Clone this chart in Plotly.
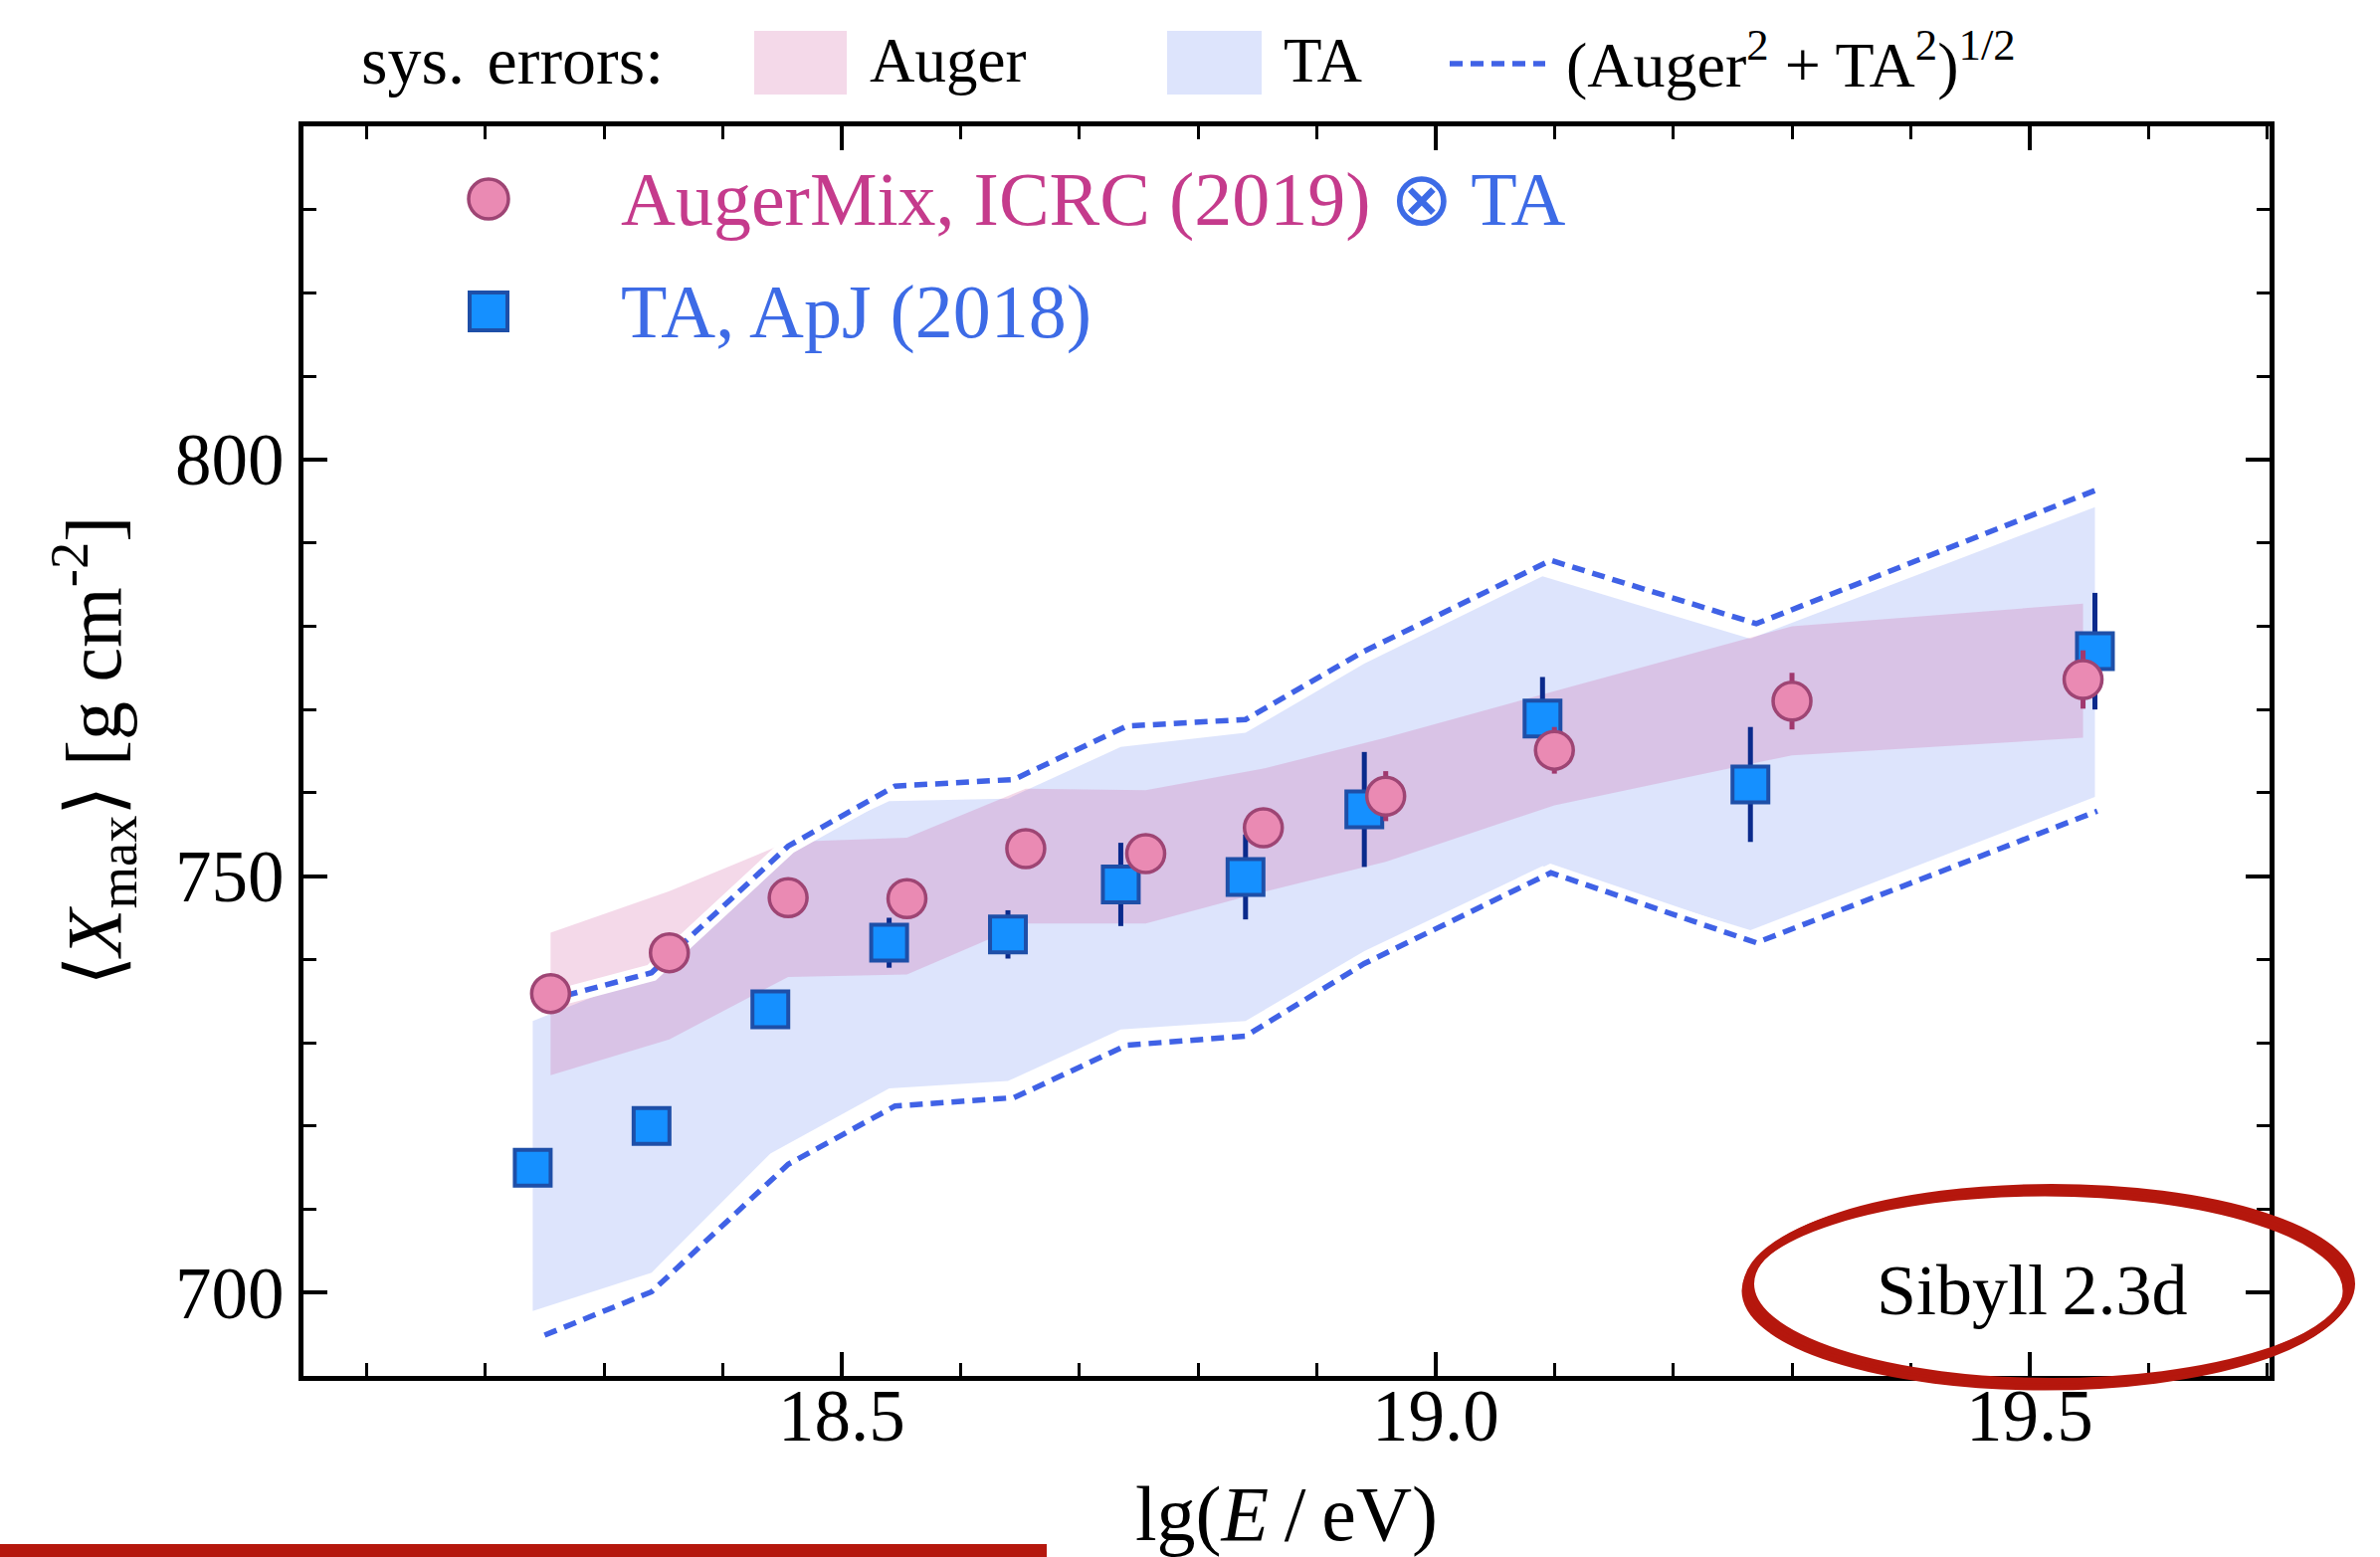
import plotly.graph_objects as go

# ---------------- data ----------------
ta_x = [18.24, 18.34, 18.44, 18.54, 18.64, 18.735, 18.84, 18.94, 19.09, 19.265, 19.555]
ta_y = [715.0, 720.0, 734.0, 742.0, 743.0, 749.0, 749.9, 758.0, 768.9, 761.0, 777.0]
ta_err = [1.5, 1.5, 1.5, 3.0, 2.9, 5.0, 5.1, 6.9, 5.0, 6.9, 7.0]
ta_sys_hi = [732.6, 738.3, 752.4, 759.0, 759.3, 765.5, 767.2, 775.5, 786.0, 778.5, 794.3]
ta_sys_lo = [697.8, 702.4, 716.7, 724.5, 725.4, 731.6, 732.6, 741.0, 751.2, 743.5, 759.5]

auger_x = [18.255, 18.355, 18.455, 18.555, 18.655, 18.756, 18.855, 18.958, 19.1, 19.3, 19.545]
auger_y = [735.9, 740.8, 747.4, 747.3, 753.3, 752.7, 755.8, 759.6, 765.1, 771.0, 773.6]
auger_err = [1.5, 1.5, 1.5, 1.5, 2.2, 1.8, 2.0, 3.0, 2.8, 3.4, 3.5]
auger_sys_hi = [743.2, 748.2, 754.1, 754.6, 760.5, 760.3, 762.9, 766.6, 772.2, 780.0, 782.7]
auger_sys_lo = [726.1, 730.4, 737.9, 738.2, 744.3, 744.3, 748.1, 751.7, 758.5, 764.5, 766.6]

comb_x = [18.25, 18.34, 18.455, 18.545, 18.645, 18.74, 18.84, 18.94, 19.097, 19.27, 19.557]
comb_hi = [735.0, 738.4, 753.6, 760.8, 761.6, 768.0, 768.8, 777.0, 787.9, 780.3, 796.4]
comb_lo = [694.9, 700.1, 715.4, 722.4, 723.4, 729.7, 730.8, 739.5, 750.4, 742.0, 757.8]

x_range = [18.047, 19.702]
y_range = [690, 840]
x_tickvals = [18.5, 19.0, 19.5]
y_tickvals = [700, 750, 800]

# ---------------- styles ----------------
FONT = "Liberation Serif"
PINK_FILL = "#ea8ab3"
PINK_EDGE = "#9e4574"
PINK_ERR = "#a0386e"
BLUE_FILL = "#1590ff"
BLUE_EDGE = "#1e4fa8"
BLUE_ERR = "#0a2a8c"
TA_BAND = "rgba(100,130,240,0.22)"
AUGER_BAND = "rgba(205,75,150,0.21)"
DASH_COL = "#4062e6"
RED = "#b5170d"

W, H = 2392, 1565
L, R, T, B = 305, 2281, 127, 1383


def px2x(p):
    return (p - L) / (R - L)


def px2y(p):
    return (B - p) / (B - T)


fig = go.Figure()

# systematic bands
fig.add_trace(go.Scatter(
    x=ta_x + ta_x[::-1], y=ta_sys_hi + ta_sys_lo[::-1],
    fill="toself", fillcolor=TA_BAND, line=dict(width=0), mode="lines",
    hoverinfo="skip"))
fig.add_trace(go.Scatter(
    x=auger_x + auger_x[::-1], y=auger_sys_hi + auger_sys_lo[::-1],
    fill="toself", fillcolor=AUGER_BAND, line=dict(width=0), mode="lines",
    hoverinfo="skip"))

# combined dashed lines with white halo
for yy in (comb_hi, comb_lo):
    fig.add_trace(go.Scatter(x=comb_x, y=yy, mode="lines",
                             line=dict(color="white", width=17), hoverinfo="skip"))
for yy in (comb_hi, comb_lo):
    fig.add_trace(go.Scatter(x=comb_x, y=yy, mode="lines",
                             line=dict(color=DASH_COL, width=5.5, dash="13px,8px"),
                             hoverinfo="skip"))

# TA data
fig.add_trace(go.Scatter(
    x=ta_x, y=ta_y, mode="markers",
    marker=dict(symbol="square", size=36, color=BLUE_FILL,
                line=dict(color=BLUE_EDGE, width=4)),
    error_y=dict(type="data", array=ta_err, color=BLUE_ERR, thickness=5, width=0)))

# Auger data
fig.add_trace(go.Scatter(
    x=auger_x, y=auger_y, mode="markers",
    marker=dict(symbol="circle", size=38, color=PINK_FILL,
                line=dict(color=PINK_EDGE, width=3.5)),
    error_y=dict(type="data", array=auger_err, color=PINK_ERR, thickness=5, width=0)))

axis_common = dict(
    showline=True, linewidth=5, linecolor="black", mirror="ticks",
    ticks="inside", ticklen=24, tickwidth=3.5, tickcolor="black",
    showgrid=False, zeroline=False,
    tickfont=dict(family=FONT, size=73, color="black"),
)

fig.update_xaxes(
    range=x_range, tickvals=x_tickvals, ticktext=[f"{v:.1f}" for v in x_tickvals],
    minor=dict(dtick=0.1, tick0=18.0, ticks="inside", ticklen=13, tickwidth=3,
               tickcolor="black", showgrid=False),
    ticklabelstandoff=-28,
    title=dict(text="lg(<i>E</i>\u2009/\u2009eV)", font=dict(family=FONT, size=78),
               standoff=46),
    **axis_common)
fig.update_yaxes(
    range=y_range, tickvals=y_tickvals, ticktext=[str(v) for v in y_tickvals],
    minor=dict(dtick=10, tick0=700, ticks="inside", ticklen=13, tickwidth=3,
               tickcolor="black", showgrid=False),
    title=dict(text="\u27e8<i>X</i><sub>max</sub>\u27e9 [g cm<sup>-2</sup>]",
               font=dict(family=FONT, size=78), standoff=30),
    **axis_common)

shapes = []
annotations = []

# top legend: sys. errors
annotations.append(dict(x=px2x(361), y=px2y(61), text="sys. \u200aerrors:",
                        font=dict(size=68, color="black")))
shapes.append(dict(type="rect", xref="paper", yref="paper",
                   x0=px2x(758), x1=px2x(851), y0=px2y(95), y1=px2y(31),
                   fillcolor=AUGER_BAND, line=dict(width=0)))
annotations.append(dict(x=px2x(872), y=px2y(61), text="Auger",
                        font=dict(size=63, color="black")))
shapes.append(dict(type="rect", xref="paper", yref="paper",
                   x0=px2x(1173), x1=px2x(1268), y0=px2y(95), y1=px2y(31),
                   fillcolor=TA_BAND, line=dict(width=0)))
annotations.append(dict(x=px2x(1288), y=px2y(61), text="TA",
                        font=dict(size=63, color="black")))
shapes.append(dict(type="line", xref="paper", yref="paper",
                   x0=px2x(1457), x1=px2x(1553), y0=px2y(64), y1=px2y(64),
                   line=dict(color=DASH_COL, width=5.5, dash="13px,8px")))
annotations.append(dict(x=px2x(1572), y=px2y(61),
                        text="(Auger<sup>2</sup> + TA<sup>2</sup>)<sup>1/2</sup>",
                        font=dict(size=64, color="black")))

# inner legend
shapes.append(dict(type="circle", xref="paper", yref="paper",
                   x0=px2x(471), x1=px2x(511), y0=px2y(220), y1=px2y(180),
                   fillcolor=PINK_FILL, line=dict(color=PINK_EDGE, width=3.5)))
shapes.append(dict(type="rect", xref="paper", yref="paper",
                   x0=px2x(472), x1=px2x(510), y0=px2y(332), y1=px2y(294),
                   fillcolor=BLUE_FILL, line=dict(color=BLUE_EDGE, width=4)))
annotations.append(dict(x=px2x(622), y=px2y(200),
                        text="<span style='color:#c53b8c'>AugerMix, ICRC (2019)</span> "
                             "<span style='color:#3d6be6'>\u2297 TA</span>",
                        font=dict(size=76)))
annotations.append(dict(x=px2x(622), y=px2y(313), text="TA, ApJ (2018)",
                        font=dict(size=76, color="#3d6be6")))

# model label and hand-drawn highlights
annotations.append(dict(x=px2x(2042), y=px2y(1297), text="Sibyll\u20092.3d", xanchor="center",
                        font=dict(size=72, color="black")))
for dx, dy, wd in ((0, 0, 8), (4, -3, 6), (-3, 4, 5)):
    shapes.append(dict(type="circle", xref="paper", yref="paper",
                       x0=px2x(1756 + dx), x1=px2x(2360 + dx),
                       y0=px2y(1391 + dy), y1=px2y(1196 + dy),
                       line=dict(color=RED, width=wd)))
shapes.append(dict(type="rect", xref="paper", yref="paper",
                   x0=px2x(0), x1=px2x(1052), y0=px2y(1565), y1=px2y(1552),
                   fillcolor=RED, line=dict(width=0)))

for a in annotations:
    a.setdefault("xref", "paper")
    a.setdefault("yref", "paper")
    a.setdefault("xanchor", "left")
    a.setdefault("yanchor", "middle")
    a["showarrow"] = False
    a["font"]["family"] = FONT

fig.update_layout(
    width=W, height=H,
    margin=dict(l=L, r=W - R, t=T, b=H - B, autoexpand=False),
    plot_bgcolor="white", paper_bgcolor="white",
    showlegend=False,
    font=dict(family=FONT, color="black"),
    shapes=shapes, annotations=annotations,
)

fig.write_html("out.html")
